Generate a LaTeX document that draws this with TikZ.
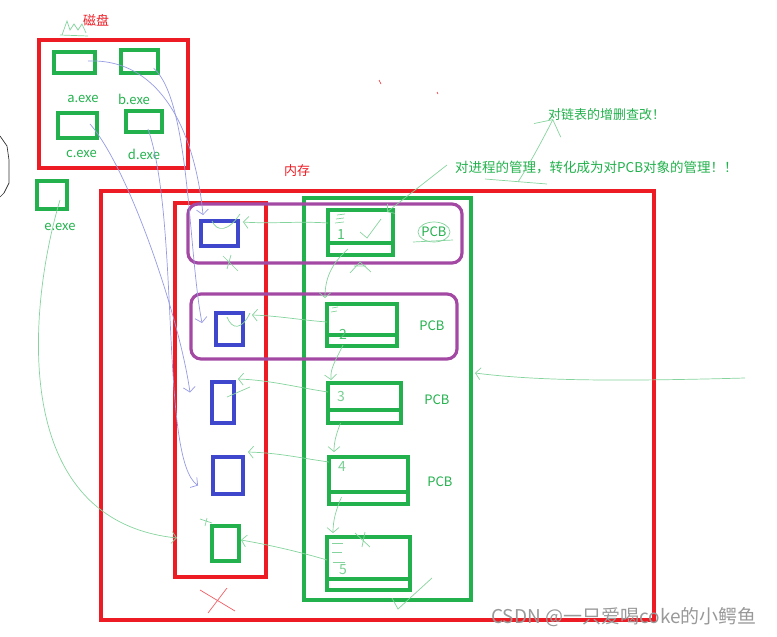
\documentclass[tikz,border=0pt]{standalone}
\usepackage{fontspec}
\setmainfont{Noto Sans CJK SC}
\usetikzlibrary{arrows.meta,calc}
\definecolor{pred}{RGB}{237,28,36}
\definecolor{pgreen}{RGB}{34,177,76}
\definecolor{pblue}{RGB}{63,72,204}
\definecolor{ppurple}{RGB}{163,73,164}
\tikzset{
 boxline/.style={draw=#1,line width=3.2pt,inner sep=0pt,outer sep=0pt},
 pen/.style={pgreen!55,line width=.7pt},
 bpen/.style={pblue!55,line width=.7pt},
 barb/.style={-{Straight Barb[length=5pt,width=12pt]}},
 lbl/.style={text=pgreen,font=\fontsize{13}{15}\selectfont,inner sep=0pt},
 hand/.style={text=pgreen!60,font=\fontsize{14}{16}\selectfont,inner sep=0pt}
}
\begin{document}
\begin{tikzpicture}[x=1pt,y=-1pt]
\useasboundingbox (0,0) rectangle (777,637);

\draw[pen] (60,35) -- (88,36) (62,35) -- (67,21) -- (70,30) -- (74,24) -- (78,30) -- (82,24) -- (86,33);
\draw[black!80,line width=.7pt] (0,136) -- (7,146) -- (9,160) -- (9,183) -- (4,193) -- (0,197);
\draw[pred,line width=.6pt] (379,80) -- (381,84) (437,92) -- (438,94);

\node[lbl,text=pred] (disklbl) at (96,20) {磁盘};
\node[boxline=pred,minimum width=149pt,minimum height=128pt] (disk) at (113.5,104) {};
\node[boxline=pgreen,minimum width=41pt,minimum height=21pt] (fa) at (74.5,62.5) {};
\node[boxline=pgreen,minimum width=37pt,minimum height=23pt] (fb) at (139.5,61.5) {};
\node[boxline=pgreen,minimum width=39pt,minimum height=25pt] (fc) at (77.5,125.5) {};
\node[boxline=pgreen,minimum width=36pt,minimum height=21pt] (fd) at (144,121.5) {};
\node[boxline=pgreen,minimum width=30pt,minimum height=28pt] (fe) at (52,195) {};
\node[lbl] (la) at (83,99) {a.exe};
\node[lbl] (lb) at (134,99) {b.exe};
\node[lbl] (lc) at (81.5,154) {c.exe};
\node[lbl] (ld) at (144,154) {d.exe};
\node[lbl] (le) at (60,227) {e.exe};

\node[lbl,text=pred] (memlbl) at (297,171) {内存};
\node[boxline=pred,minimum width=553pt,minimum height=429pt] (mem) at (377.5,405.5) {};
\node[boxline=pred,minimum width=91pt,minimum height=374pt] (col) at (220.5,390) {};
\node[boxline=pgreen,minimum width=167pt,minimum height=402pt] (pcbcol) at (387.5,399) {};
\node[boxline=ppurple,rounded corners=10pt,minimum width=274pt,minimum height=59pt] (grp1) at (325,233.5) {};
\node[boxline=ppurple,rounded corners=10pt,minimum width=266pt,minimum height=65pt] (grp2) at (324,326.5) {};

\node[boxline=pblue,minimum width=37pt,minimum height=25pt] (b1) at (219.5,233.5) {};
\node[boxline=pblue,minimum width=27pt,minimum height=32pt] (b2) at (229.5,329) {};
\node[boxline=pblue,minimum width=22pt,minimum height=41pt] (b3) at (223,402.5) {};
\node[boxline=pblue,minimum width=30pt,minimum height=37pt] (b4) at (228,475.5) {};
\node[boxline=pgreen,minimum width=27pt,minimum height=35pt] (g5) at (225.5,543.5) {};

\node[boxline=pgreen,minimum width=65pt,minimum height=45pt] (p1) at (360.5,232.5) {};
\node[boxline=pgreen,minimum width=70pt,minimum height=42pt] (p2) at (362,325) {};
\node[boxline=pgreen,minimum width=73pt,minimum height=40pt] (p3) at (364.5,403) {};
\node[boxline=pgreen,minimum width=79pt,minimum height=47pt] (p4) at (368.5,480.5) {};
\node[boxline=pgreen,minimum width=83pt,minimum height=53pt] (p5) at (368.5,563.5) {};
\foreach \p/\s in {p1/12,p2/11,p3/13,p4/12,p5/11}
 \draw[pgreen,line width=3.2pt] ($(\p.south west)+(0,-\s)$) -- ($(\p.south east)+(0,-\s)$);

\node[lbl] (k1) at (434,232) {PCB};
\node[lbl] (k2) at (432,326) {PCB};
\node[lbl] (k3) at (437,400) {PCB};
\node[lbl] (k4) at (440,482) {PCB};
\draw[pen] (k1) ellipse (16 and 10);
\draw[pen] (413,242) -- (453,240);

\node[hand,text=pgreen!80] (n1) at (341,235) {1};
\node[hand,text=pgreen!80] (n2) at (343,334) {2};
\node[hand] (n3) at (341,397) {3};
\node[hand] (n4) at (342,467) {4};
\node[hand] (n5) at (343,570) {5};
\draw[pen] (337,215) -- (345,214) (336,219) -- (344,218) (335,223) -- (344,222);
\draw[pen] (332,308) -- (338,307) (331,312) -- (337,311);
\draw[pen] (332,543) -- (343,543) (332,552) -- (342,552) (333,562) -- (345,562);
\draw[pen] (360,232) -- (367,238) -- (381,219);

\node[lbl,anchor=west] (list) at (548,115) {对链表的增删查改！};
\node[lbl,anchor=west,font=\fontsize{13.5}{15}\selectfont] (proc) at (455,168) {对进程的管理，转化成为对PCB对象的管理！！};
\coordinate (ul) at (518,182);
\coordinate (rin) at (745,378);
\draw[pen] (485,179) -- (547,184);

\draw[pen,barb] ($(p1.west)+(0,-9.5)$) .. controls (300,221) and (270,224) .. ($(b1.east)+(5,-11.5)$);
\draw[pen,barb] ($(p2.west)+(0,-3)$) .. controls (300,320) and (280,316) .. ($(b2.east)+(9,-14)$);
\draw[pen,barb] ($(p3.west)+(0,-11)$) .. controls (300,388) and (270,380) .. ($(b3.east)+(4,-23.5)$);
\draw[pen,barb] ($(p4.west)+(0,-18.5)$) .. controls (300,458) and (280,453) .. ($(b4.east)+(5,-23.5)$);
\draw[pen,barb] ($(p5.west)+(0,-3.5)$) .. controls (300,552) and (270,545) .. ($(g5.east)+(2,-3.5)$);

\draw[pen,barb] ($(p1.south)+(-12.5,-6)$) .. controls (330,265) and (325,280) .. ($(p2.north west)+(-2,-6)$);
\draw[pen,barb] ($(p2.south)+(-19,-1)$) .. controls (336,360) and (330,368) .. ($(p3.north west)+(3,-3)$);
\draw[pen,barb] ($(p3.south)+(-24,0)$) .. controls (336,435) and (334,442) .. ($(p4.north west)+(5,-5)$);
\draw[pen,barb] ($(p4.south)+(-27,-7)$) .. controls (336,510) and (333,520) .. ($(p5.north west)+(6,-4)$);

\draw[pen,barb] ($(proc.west)+(-8,-3)$) -- ($(p1.north east)+(-6,2)$);
\draw[pen,-{Straight Barb[length=12pt,width=30pt]}] (ul) .. controls (532,160) and (545,135) .. ($(list.south west)+(5,-2)$);
\draw[pen,barb] (rin) .. controls (600,382) and (530,380) .. ($(pcbcol.east)+(4,-26)$);

\draw[bpen,barb] ($(fa.center)+(13.5,-1.5)$) .. controls (165,58) and (196,140) .. ($(b1.north west)+(2,-6)$);
\draw[bpen,barb] ($(fb.center)+(14,6.5)$) .. controls (190,100) and (188,250) .. ($(b2.north west)+(-14,10)$);
\draw[bpen,barb] ($(fc.center)+(12.5,-1.5)$) .. controls (130,170) and (180,320) .. ($(b3.west)+(-22,-10)$);
\draw[bpen,barb] ($(fd.center)+(4,7.5)$) .. controls (180,220) and (160,460) .. ($(b4.west)+(-15,10)$);
\draw[pen,barb] ($(fe.south)+(8,-9)$) .. controls (30,300) and (5,520) .. ($(col.west)+(2,148)$);

\draw[pen] (212,221) .. controls (217,232) and (228,232) .. (240,214);
\draw[pen] (227,317) .. controls (232,330) and (242,330) .. (250,313);
\draw[pen] (227,397) -- (250,387);
\draw[pen] (223,256) -- (238,271) (231,255) -- (227,269);
\draw[pen] (350,273) -- (360,262) -- (371,272) (354,266) -- (366,266);
\draw[pen] (200,519) -- (212,523) (207,518) -- (205,526);
\draw[pen] (355,533) -- (370,547) (365,532) -- (362,547);
\draw[pen] (392,598) -- (398,609) -- (432,578);
\draw[pred!70,line width=.7pt] (200,590) -- (235,611) (227,588) -- (208,613);

\node[font=\fontsize{19}{21}\selectfont,text=black!40,inner sep=0pt] (mark) at (624,617) {CSDN @一只爱喝coke的小鳄鱼};
\end{tikzpicture}
\end{document}
